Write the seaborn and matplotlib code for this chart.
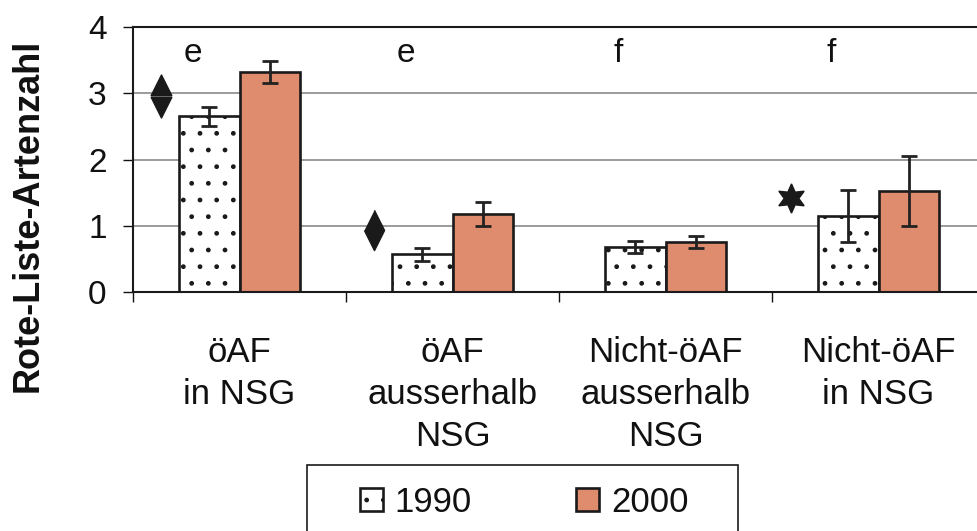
import numpy as np
import pandas as pd
import seaborn as sns
import matplotlib.pyplot as plt
from matplotlib.path import Path
from matplotlib.patches import Rectangle

# Data
gebiete = ['öAF\nin NSG', 'öAF\nausserhalb\nNSG', 'Nicht-öAF\nausserhalb\nNSG', 'Nicht-öAF\nin NSG']
jahre = ['1990', '2000']
werte_1990 = [2.65, 0.57, 0.68, 1.15]
werte_2000 = [3.32, 1.18, 0.75, 1.52]
fehler_1990 = [0.15, 0.10, 0.09, 0.39]
fehler_2000 = [0.16, 0.18, 0.09, 0.53]
buchstaben = ['e', 'e', 'f', 'f']
# significance symbols next to groups
symbole = ['splitdiamond', 'diamond', None, 'star']
symbol_y = [2.96, 0.94, None, 1.42]

df = pd.DataFrame({
    'Gebiet': gebiete * 2,
    'Jahr': [jahre[0]] * 4 + [jahre[1]] * 4,
    'Wert': werte_1990 + werte_2000,
    'Fehler': fehler_1990 + fehler_2000,
})

sns.set_style('white')
plt.rcParams['font.family'] = ['Liberation Sans', 'DejaVu Sans']
plt.rcParams['hatch.linewidth'] = 1.0
plt.rcParams['text.color'] = '#111111'
plt.rcParams['axes.labelcolor'] = '#111111'
plt.rcParams['xtick.color'] = '#111111'
plt.rcParams['ytick.color'] = '#111111'

fig = plt.figure(figsize=(9.77, 5.31), dpi=100)
ax = fig.add_axes([133 / 977, 1 - 292 / 531, 852 / 977, 265 / 531])

sns.barplot(data=df, x='Gebiet', y='Wert', hue='Jahr', order=gebiete, hue_order=jahre,
            palette={'1990': 'white', '2000': '#DE8B6E'}, width=0.57,
            edgecolor='#1a1a1a', linewidth=1.9, errorbar=None, saturation=1, ax=ax, zorder=2)
ax.get_legend().remove()

# dots for 1990 bars
for p in ax.containers[0]:
    p.set_hatch('.')

# error bars
for cont, jahr in zip(ax.containers, jahre):
    sub = df[df['Jahr'] == jahr]
    xs = [p.get_x() + p.get_width() / 2 for p in cont]
    ys = [p.get_height() for p in cont]
    ax.errorbar(xs, ys, yerr=sub['Fehler'].values, fmt='none', ecolor='#222222',
                elinewidth=2, capsize=5.5, capthick=2, zorder=3)

# letters above groups
for i, b in enumerate(buchstaben):
    ax.text(i - 0.22, 3.6, b, ha='center', va='center', fontsize=24)

# markers
tri_gap = 0.04
split_diamond = Path(
    [(-0.48, tri_gap), (0.48, tri_gap), (0, 1), (-0.48, tri_gap),
     (-0.48, -tri_gap), (0.48, -tri_gap), (0, -1), (-0.48, -tri_gap)],
    [Path.MOVETO, Path.LINETO, Path.LINETO, Path.CLOSEPOLY] * 2)
diamond = [(0, 1), (0.5, 0), (0, -1), (-0.5, 0)]
for i, (s, y) in enumerate(zip(symbole, symbol_y)):
    if s == 'splitdiamond':
        ax.plot(i - 0.37, y, marker=split_diamond, markersize=31, color='#1a1a1a', lw=0, zorder=4)
    elif s == 'diamond':
        ax.plot(i - 0.37, y, marker=diamond, markersize=29, color='#1a1a1a', lw=0, zorder=4)
    elif s == 'star':
        ax.plot(i - 0.41, y, marker=(6, 1, 0), markersize=21, color='#1a1a1a', lw=0, zorder=4)

ax.set_xlim(-0.5, 3.5)
ax.set_ylim(0, 4)
ax.set_yticks([0, 1, 2, 3, 4])
ax.yaxis.grid(True, color='#8a8a8a', lw=1.2, zorder=0)
ax.set_axisbelow(True)

for side in ['left', 'bottom', 'top']:
    ax.spines[side].set_visible(True)
    ax.spines[side].set_color('#1a1a1a')
    ax.spines[side].set_linewidth(1.5)
ax.spines['right'].set_visible(False)

ax.tick_params(axis='y', which='major', direction='out', length=7, width=1,
               left=True, labelsize=24, pad=12)
ax.set_xticks(range(4))
ax.set_xticklabels(gebiete, fontsize=25, linespacing=1.33)
ax.tick_params(axis='x', which='major', length=0, pad=32)
ax.set_xticks([-0.5, 0.5, 1.5, 2.5], minor=True)
ax.tick_params(axis='x', which='minor', direction='out', length=7, width=1, bottom=True)

ax.set_xlabel('')
ax.set_ylabel('Rote-Liste-Artenzahl', fontsize=26, fontweight='bold')
ax.yaxis.set_label_coords(-0.103, 0.29)

# legend
handles = [ax.containers[0][0], ax.containers[1][0]]
fig.legend(handles, jahre, loc='center left', bbox_to_anchor=(360 / 977, 1 - 502 / 531),
           frameon=False, ncol=2, fontsize=25, handlelength=0.65, handleheight=0.65,
           handletextpad=0.35, columnspacing=3.0, borderpad=0, borderaxespad=0)
fig.patches.append(Rectangle((307 / 977, -0.05), (738 - 307) / 977, (1 - 465 / 531) + 0.05,
                             transform=fig.transFigure, fill=False, edgecolor='#1a1a1a', lw=1.2))

fig.savefig('out.png', dpi=100)
